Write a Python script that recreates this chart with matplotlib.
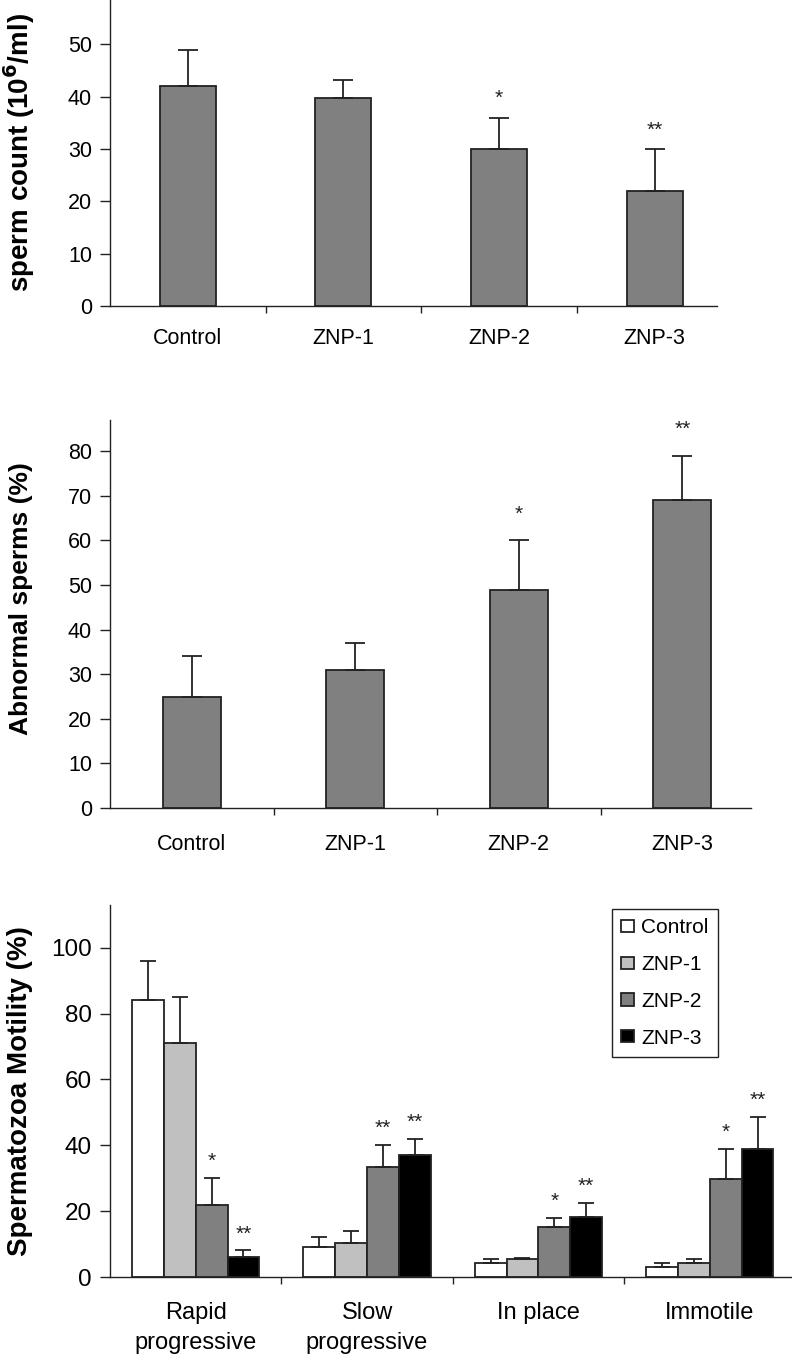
import matplotlib
matplotlib.use("Agg")
import matplotlib.pyplot as plt
import numpy as np

plt.rcParams["font.family"] = ["Liberation Sans", "DejaVu Sans"]

# ---- data ----
groups = ["Control", "ZNP-1", "ZNP-2", "ZNP-3"]

count_mean = [42, 39.7, 30, 22]
count_err = [7, 3.6, 6, 8]
count_stars = ["", "", "*", "**"]

abnormal_mean = [25, 31, 48.8, 69]
abnormal_err = [9, 6, 11.2, 10]
abnormal_stars = ["", "", "*", "**"]

motility_cats = ["Rapid\nprogressive", "Slow\nprogressive", "In place", "Immotile"]
motility_mean = {
    "Control": [84, 9, 4.2, 2.9],
    "ZNP-1": [71, 10.3, 5.5, 4.2],
    "ZNP-2": [22, 33.3, 15.3, 29.8],
    "ZNP-3": [6, 37.1, 18.1, 38.9],
}
motility_err = {
    "Control": [12, 3.3, 1.3, 1.3],
    "ZNP-1": [14, 3.7, 0.4, 1.3],
    "ZNP-2": [8, 6.8, 2.6, 9.1],
    "ZNP-3": [2.1, 4.8, 4.5, 9.8],
}
motility_stars = {
    "Control": ["", "", "", ""],
    "ZNP-1": ["", "", "", ""],
    "ZNP-2": ["*", "**", "*", "*"],
    "ZNP-3": ["**", "**", "**", "**"],
}
group_colors = ["white", "#c0c0c0", "#808080", "black"]

W, H = 792, 1360


def px_axes(left, right, top, bottom):
    return fig.add_axes([left / W, 1 - bottom / H, (right - left) / W, (bottom - top) / H])


def style_axes(ax, ylim, yticks, xmax, tick_fs, cat_labels, cat_pad, cat_fs):
    ax.set_ylim(*ylim)
    ax.set_xlim(-0.5, xmax)
    ax.spines["top"].set_visible(False)
    ax.spines["right"].set_visible(False)
    for sp in ("left", "bottom"):
        ax.spines[sp].set_linewidth(1.0)
        ax.spines[sp].set_color("#222222")
    ax.set_yticks(yticks)
    ax.tick_params(axis="y", direction="out", length=7, width=1, pad=6,
                   labelsize=tick_fs, color="#222222")
    # boundary ticks between categories, labels at category centres
    n = len(cat_labels)
    ax.set_xticks(np.arange(n - 1) + 0.5)
    ax.set_xticklabels([])
    ax.tick_params(axis="x", which="major", direction="out", length=5, width=1,
                   color="#222222")
    ax.set_xticks(np.arange(n), minor=True)
    ax.set_xticklabels(cat_labels, minor=True, fontsize=cat_fs)
    ax.tick_params(axis="x", which="minor", length=0, pad=cat_pad)


def add_stars(ax, xs, tops, stars, off, fs):
    for x, t, s in zip(xs, tops, stars):
        if s:
            ax.annotate(s, xy=(x, t), xytext=(0, off), textcoords="offset points",
                        ha="center", va="bottom", fontsize=fs, color="#222222")


fig = plt.figure(figsize=(W / 100, H / 100), dpi=100)

# ---- panel 1: sperm count ----
ax1 = px_axes(110, 717, 0, 306)
x = np.arange(len(groups))
ax1.bar(x, count_mean, width=0.36, color="#808080", edgecolor="#222222", linewidth=1.3,
        yerr=[np.zeros(len(groups)), count_err],
        error_kw=dict(ecolor="#222222", elinewidth=1.3, capsize=7, capthick=1.3))
style_axes(ax1, (0, 58.5), [0, 10, 20, 30, 40, 50], 3.4, 15.5, groups, 16, 15.5)
ax1.set_ylabel("sperm count (10$^\\mathbf{6}$/ml)", fontsize=20, fontweight="bold")
ax1.yaxis.set_label_coords(-0.12, 0.5)
add_stars(ax1, x, np.add(count_mean, count_err), count_stars, 7, 15)

# ---- panel 2: abnormal sperms ----
ax2 = px_axes(110, 751, 420, 808)
ax2.bar(x, abnormal_mean, width=0.355, color="#808080", edgecolor="#222222", linewidth=1.3,
        yerr=[np.zeros(len(groups)), abnormal_err],
        error_kw=dict(ecolor="#222222", elinewidth=1.3, capsize=7, capthick=1.3))
style_axes(ax2, (0, 87), np.arange(0, 81, 10), 3.42, 15.5, groups, 18.5, 15.5)
ax2.set_ylabel("Abnormal sperms (%)", fontsize=19, fontweight="bold")
ax2.yaxis.set_label_coords(-0.12, 0.54)
add_stars(ax2, x, np.add(abnormal_mean, abnormal_err), abnormal_stars, 12, 15)

# ---- panel 3: motility ----
ax3 = px_axes(110, 792, 905, 1277)
bw = 0.186
for i, g in enumerate(groups):
    xs = np.arange(len(motility_cats)) + (i - 1.5) * bw
    ax3.bar(xs, motility_mean[g], width=bw, color=group_colors[i], edgecolor="#222222",
            linewidth=1.3, label=g,
            yerr=[np.zeros(len(motility_cats)), motility_err[g]],
            error_kw=dict(ecolor="#222222", elinewidth=1.3, capsize=6, capthick=1.3))
    add_stars(ax3, xs, np.add(motility_mean[g], motility_err[g]), motility_stars[g], 5, 15)
style_axes(ax3, (0, 113), [0, 20, 40, 60, 80, 100], 3.48, 17.5, motility_cats, 18, 17)
for lbl in ax3.get_xticklabels(minor=True):
    lbl.set_linespacing(1.45)
    lbl.set_verticalalignment("top")
ax3.set_ylabel("Spermatozoa Motility (%)", fontsize=20, fontweight="bold")
ax3.yaxis.set_label_coords(-0.113, 0.5)
leg = ax3.legend(loc="upper left", bbox_to_anchor=(0.736, 0.989), fontsize=15,
                 frameon=True, fancybox=False, edgecolor="#222222", framealpha=1,
                 handlelength=0.6, handleheight=0.55, handletextpad=0.35,
                 labelspacing=0.85, borderpad=0.45, borderaxespad=0)
leg.get_frame().set_linewidth(1.0)

fig.savefig("out.png", dpi=100)
